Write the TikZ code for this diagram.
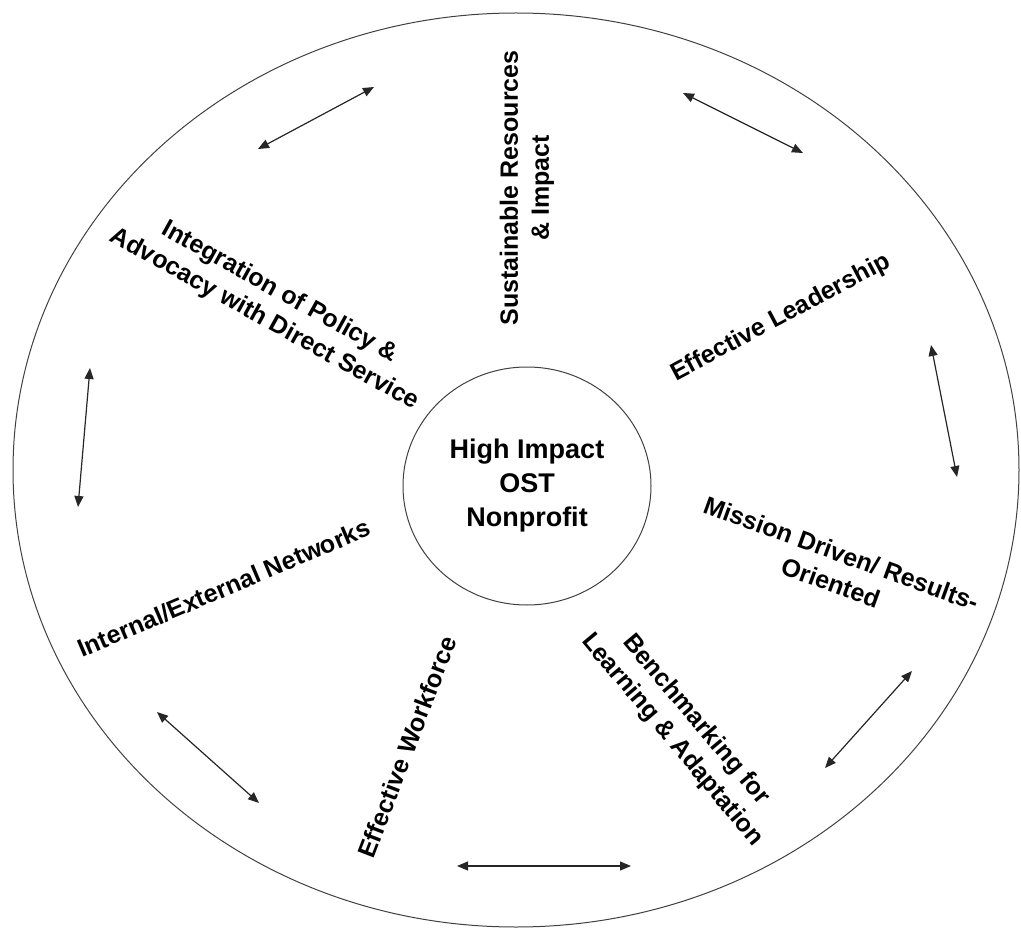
\documentclass[tikz,border=0pt]{standalone}
\usepackage{fontspec}
\setmainfont{Liberation Sans}
\usetikzlibrary{arrows.meta, shapes.geometric}

\tikzset{
  spoke/.style={font=\bfseries\fontsize{25}{31}\selectfont, align=center, inner sep=0pt},
  link/.style={{Triangle[length=11pt,width=9pt]}-{Triangle[length=11pt,width=9pt]}, line width=1.2pt, draw=black!85},
}

\begin{document}
\begin{tikzpicture}[x=1pt, y=-1pt]
\useasboundingbox (0,0) rectangle (1021,928);
\draw[line width=1pt, black!75] (516,470) ellipse [x radius=503, y radius=457];
\node[draw=black!75, line width=1pt, ellipse, minimum width=248pt, minimum height=238pt, inner sep=0pt,
      font=\bfseries\fontsize{27}{34}\selectfont, align=center] (hub) at (527,486) {High Impact\\OST\\Nonprofit};
\node[spoke, rotate=90] (resources) at (527,188) {Sustainable Resources\\\& Impact};
\node[spoke, rotate=28] (leadership) at (781,318) {Effective Leadership};
\node[spoke, rotate=-20] (mission) at (836,568) {Mission Driven/ Results-\\Oriented};
\node[spoke, rotate=-50] (benchmark) at (684,730) {Benchmarking for\\Learning \& Adaptation};
\node[spoke, rotate=69] (workforce) at (407,747) {Effective Workforce};
\node[spoke, rotate=23] (networks) at (224,588) {Internal/External Networks};
\node[spoke, rotate=-29] (policy) at (272,306) {Integration of Policy \&\\Advocacy with Direct Service};
% free arrows round the ring
\coordinate (tl1) at (258,149);
\coordinate (tl2) at (374,87);
\coordinate (tr1) at (683,93);
\coordinate (tr2) at (803,153);
\coordinate (r1) at (931,345);
\coordinate (r2) at (957,477);
\coordinate (br1) at (912,671);
\coordinate (br2) at (825,768);
\coordinate (b1) at (457,866);
\coordinate (b2) at (631,866);
\coordinate (bl1) at (157,712);
\coordinate (bl2) at (259,803);
\coordinate (l1) at (90,368);
\coordinate (l2) at (78,507);
\draw[link] (tl1) -- (tl2);
\draw[link] (tr1) -- (tr2);
\draw[link] (r1) -- (r2);
\draw[link] (br1) -- (br2);
\draw[link] (b1) -- (b2);
\draw[link] (bl1) -- (bl2);
\draw[link] (l1) -- (l2);
\end{tikzpicture}
\end{document}
